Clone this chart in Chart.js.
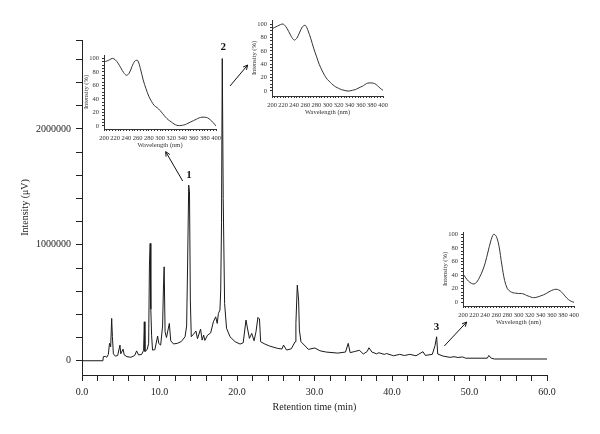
<!DOCTYPE html>
<html>
<head>
<meta charset="utf-8">
<script src="https://cdn.jsdelivr.net/npm/chart.js@4.4.1/dist/chart.umd.min.js"></script>
<style>
  body { margin: 0; background: #fff; }
  #wrap { position: relative; width: 600px; height: 434px; }
  #wrap canvas { position: absolute; }
</style>
</head>
<body>
<div id="wrap">
  <canvas id="main" width="600" height="434" style="left:0;top:0"></canvas>
  <canvas id="inset1" width="148" height="109" style="left:80px;top:45px"></canvas>
  <canvas id="inset2" width="147" height="111" style="left:248px;top:10px"></canvas>
  <canvas id="inset3" width="147" height="109" style="left:439px;top:222px"></canvas>
</div>
<script>
// chromatogram, retention time (min) vs intensity (uV)
const retentionTime = [
  0, 2.70, 2.75, 3.0, 3.2, 3.4, 3.55, 3.7, 3.83, 3.92, 4.05, 4.3, 4.6, 4.9, 5.0, 5.3, 5.45,
  5.8, 6.3, 6.8, 7.05, 7.3, 7.7, 7.95, 8.04, 8.12, 8.4, 8.6, 8.7, 8.8, 8.88, 8.98, 9.1,
  9.4, 9.76, 9.9, 10.15, 10.4, 10.5, 10.6, 10.72, 10.9, 11.27, 11.45, 11.8, 12.3, 12.8,
  13.3, 13.5, 13.62, 13.77, 13.87, 13.98, 14.1, 14.4, 14.7, 14.9, 15.3, 15.5, 15.7, 15.85,
  16.2, 16.6, 16.95, 17.25, 17.45, 17.6, 17.8, 17.9, 18.0, 18.1, 18.22, 18.4, 18.65, 19.1,
  19.75, 20.4, 20.8, 21.16, 21.3, 21.6, 21.9, 22.2, 22.45, 22.7, 22.9, 23.05, 23.6, 24.2,
  25.2, 25.8, 26.0, 26.4, 27.0, 27.5, 27.6, 27.78, 27.95, 28.05, 28.25, 28.8, 29.2, 30.05,
  30.7, 31.5, 33.0, 34.0, 34.35, 34.6, 35.2, 35.8, 36.3, 36.8, 37.03, 37.4, 38.0, 38.3,
  39.0, 39.3, 40.2, 41.0, 41.6, 42.3, 43.1, 44.0, 44.3, 45.2, 45.55, 45.76, 45.9, 46.6,
  47.5, 48.0, 48.5, 49.1, 49.5, 52.3, 52.5, 52.8, 53.2, 60.0
];
const intensity = [
  0, 0, 35000, 38000, 30000, 55000, 150000, 120000, 365000, 210000, 60000, 40000, 45000, 135000, 60000, 100000, 50000,
  35000, 30000, 45000, 85000, 50000, 55000, 90000, 336000, 80000, 95000, 150000, 825000, 1012000, 445000, 220000, 92000,
  95000, 213000, 150000, 135000, 300000, 610000, 810000, 250000, 200000, 322000, 172000, 145000, 150000, 165000,
  207000, 300000, 800000, 1515000, 1457000, 523000, 207000, 230000, 256000, 190000, 273000, 178000, 221000, 175000,
  221000, 240000, 336000, 379000, 322000, 408000, 437000, 610000, 1190000, 2607000, 1400000, 495000, 280000, 207000,
  164000, 144000, 155000, 351000, 299000, 193000, 236000, 172000, 250000, 374000, 360000, 164000, 144000, 127000,
  107000, 101000, 135000, 92000, 103000, 164000, 322000, 652000, 523000, 265000, 164000, 127000, 98000, 110000,
  86000, 75000, 66000, 75000, 150000, 70000, 80000, 90000, 58000, 80000, 112000, 75000, 60000, 69000,
  55000, 62000, 43000, 55000, 45000, 55000, 43000, 78000, 46000, 55000, 130000, 207000, 58000, 40000,
  29000, 35000, 28000, 33000, 22000, 22000, 46000, 22000, 15000, 15000
];
const timeTicks = [];
for (let t = 0; t <= 60; t += 2) timeTicks.push(t);
const intensityTicks = [0, 200000, 400000, 600000, 800000, 1000000, 1200000, 1400000, 1600000,
  1800000, 2000000, 2200000, 2400000, 2600000, 2767000];

// peak markers and arrows (in chart units)
const peakLabels = ['1', '2', '3'];
const peakLabelTime = [13.8, 18.23, 45.75];
const peakLabelLevel = [1602000, 2709000, 288500];
const arrowFromTime = [12.99, 19.1, 46.75];
const arrowFromLevel = [1550600, 2370200, 127200];
const arrowToTime = [10.8, 21.38, 49.64];
const arrowToLevel = [1803400, 2551300, 334200];

// UV spectra of peaks 1-3 (wavelength in nm, relative intensity in %)
const wavelength = [];
for (let w = 200; w <= 400; w += 5) wavelength.push(w);
const spectrum1 = [95, 96, 98, 100, 98, 93, 86, 79, 75, 78, 88, 96, 97, 85, 68, 55, 44, 36, 30, 27, 23,
  18, 13, 9, 6, 3, 1, 0.5, 1, 2, 4, 6, 8, 10, 12, 13, 13, 12, 9, 5, 0];
const spectrum2 = [93, 95, 97, 99, 100, 96, 89, 81, 76, 79, 88, 96, 98, 90, 78, 64, 52, 40, 31, 23, 17,
  13, 9, 6, 4, 2, 1, 0, 0, 1, 2, 4, 6, 8, 11, 12, 12, 11, 8, 4, 1];
const spectrum3 = [42, 36, 31, 28, 27, 30, 37, 46, 58, 74, 90, 100, 97, 82, 55, 32, 20, 16, 14, 13.5, 13,
  13, 12, 10, 8.5, 7, 7, 8, 9.5, 11, 13, 15.5, 17.5, 19, 19, 17, 13, 8, 4, 1.5, 0];
const wavelengthTicks = wavelength;
const percentTicks = [];
for (let p = 0; p <= 100; p += 5) percentTicks.push(p);

Chart.defaults.font.family = '"Liberation Serif", "Times New Roman", serif';
Chart.defaults.color = "#222";

const peakMarks = {
  id: "peakMarks",
  afterDraw(chart) {
    const { ctx, scales } = chart;
    const x = scales.x;
    const y = scales.y;
    ctx.save();
    ctx.fillStyle = "#111";
    ctx.font = 'bold 11px "Liberation Serif", serif';
    ctx.textAlign = "center";
    ctx.textBaseline = "middle";
    peakLabels.forEach((lab, i) => {
      ctx.fillText(lab, x.getPixelForValue(peakLabelTime[i]), y.getPixelForValue(peakLabelLevel[i]));
    });
    ctx.strokeStyle = "#111";
    ctx.lineWidth = 1;
    arrowFromTime.forEach((_, i) => {
      const x0 = x.getPixelForValue(arrowFromTime[i]);
      const y0 = y.getPixelForValue(arrowFromLevel[i]);
      const x1 = x.getPixelForValue(arrowToTime[i]);
      const y1 = y.getPixelForValue(arrowToLevel[i]);
      const ang = Math.atan2(y1 - y0, x1 - x0);
      ctx.beginPath();
      ctx.moveTo(x0, y0);
      ctx.lineTo(x1, y1);
      ctx.moveTo(x1 - 5 * Math.cos(ang - 0.45), y1 - 5 * Math.sin(ang - 0.45));
      ctx.lineTo(x1, y1);
      ctx.lineTo(x1 - 5 * Math.cos(ang + 0.45), y1 - 5 * Math.sin(ang + 0.45));
      ctx.stroke();
    });
    ctx.restore();
  },
};

new Chart(document.getElementById("main"), {
  type: "line",
  data: {
    datasets: [
      {
        data: retentionTime.map((t, i) => ({ x: t, y: intensity[i] })),
        borderColor: "#1a1a1a",
        borderWidth: 1,
        pointRadius: 0,
        tension: 0,
      },
    ],
  },
  options: {
    responsive: false,
    animation: false,
    layout: { padding: { top: 40, right: 53, left: 0, bottom: 0 } },
    plugins: { legend: { display: false }, tooltip: { enabled: false } },
    scales: {
      x: {
        type: "linear",
        min: 0,
        max: 60,
        afterBuildTicks: (s) => { s.ticks = timeTicks.map((v) => ({ value: v })); },
        afterFit: (s) => { s.height = 59; },
        ticks: {
          autoSkip: false,
          maxRotation: 0,
          padding: 5,
          font: { size: 10 },
          callback: (v) => (v % 10 === 0 ? v.toFixed(1) : ""),
        },
        grid: { drawOnChartArea: false, tickLength: 6, color: "#222" },
        border: { color: "#222", width: 1 },
        title: { display: true, text: "Retention time (min)", font: { size: 10 }, padding: { bottom: 21 } },
      },
      y: {
        min: -123000,
        max: 2767000,
        afterBuildTicks: (s) => { s.ticks = intensityTicks.map((v) => ({ value: v })); },
        afterFit: (s) => { s.width = 82; },
        ticks: {
          autoSkip: false,
          padding: 5,
          font: { size: 10 },
          callback: (v) => (v % 1000000 === 0 ? String(v) : ""),
        },
        grid: { drawOnChartArea: false, tickLength: 6, color: "#222" },
        border: { color: "#222", width: 1 },
        title: { display: true, text: "Intensity (\u03bcV)", font: { size: 10 }, padding: { top: 19 } },
      },
    },
  },
  plugins: [peakMarks],
});

function makeInset(id, values, yMin, yMax) {
  return new Chart(document.getElementById(id), {
    type: "line",
    data: {
      datasets: [
        {
          data: wavelength.map((w, i) => ({ x: w, y: values[i] })),
          borderColor: "#333",
          borderWidth: 1,
          pointRadius: 0,
          tension: 0.3,
        },
      ],
    },
    options: {
      responsive: false,
      animation: false,
      layout: { padding: { top: 10, right: 12, left: 0, bottom: 0 } },
      plugins: { legend: { display: false }, tooltip: { enabled: false } },
      scales: {
        x: {
          type: "linear",
          min: 200,
          max: 400,
          afterBuildTicks: (s) => { s.ticks = wavelengthTicks.map((v) => ({ value: v })); },
          afterFit: (s) => { s.height = 25; },
          ticks: {
            autoSkip: false,
            maxRotation: 0,
            padding: 3,
            font: { size: 6.5 },
            color: "#333",
            callback: (v) => (v % 20 === 0 ? String(v) : ""),
          },
          grid: { drawOnChartArea: false, tickLength: 2, color: "#333" },
          border: { color: "#333", width: 1 },
          title: { display: true, text: "Wavelength (nm)", font: { size: 6.5 }, color: "#333", padding: { bottom: 4.5 } },
        },
        y: {
          min: yMin,
          max: yMax,
          afterBuildTicks: (s) => { s.ticks = percentTicks.map((v) => ({ value: v })); },
          afterFit: (s) => { s.width = 24; },
          ticks: {
            autoSkip: false,
            padding: 3,
            font: { size: 6.5 },
            color: "#333",
            callback: (v) => (v % 20 === 0 ? String(v) : ""),
          },
          grid: { drawOnChartArea: false, tickLength: 2, color: "#333" },
          border: { color: "#333", width: 1 },
          title: { display: true, text: "Intensity (%)", font: { size: 6.5 }, color: "#333", padding: { top: 2 } },
        },
      },
    },
  });
}

makeInset("inset1", spectrum1, -4.5, 105);
makeInset("inset2", spectrum2, -7.5, 106);
makeInset("inset3", spectrum3, -5.4, 103.4);
</script>
</body>
</html>
